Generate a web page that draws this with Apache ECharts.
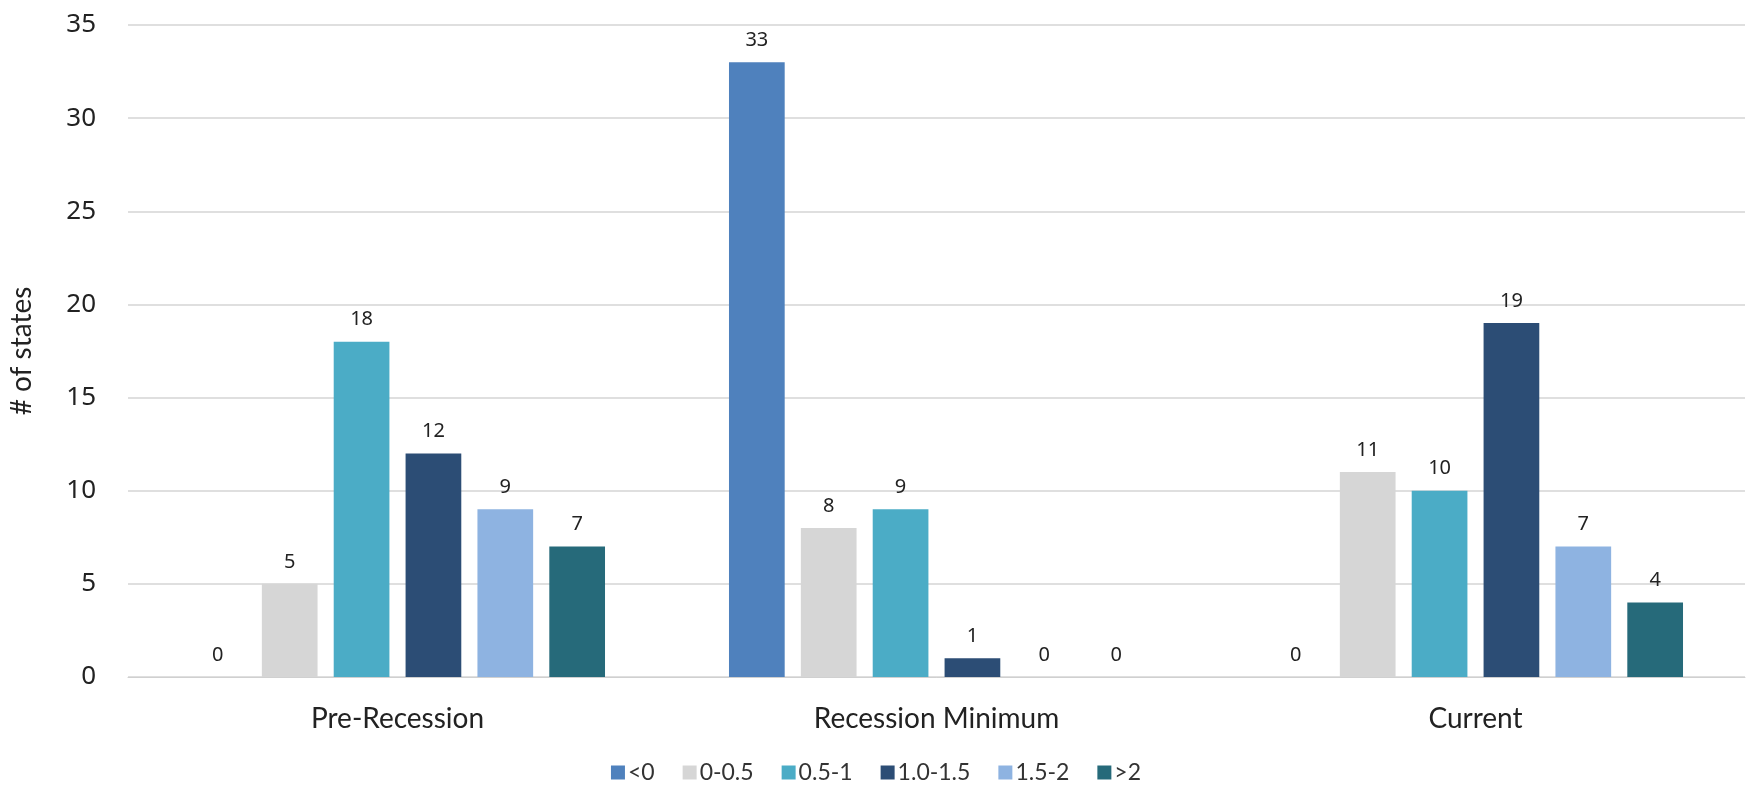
<!DOCTYPE html>
<html>
<head>
<meta charset="utf-8">
<script src="https://cdn.jsdelivr.net/npm/echarts@6/dist/echarts.min.js"></script>
<style>
  html, body { margin: 0; padding: 0; background: #fff; }
  #chart { width: 1752px; height: 789px; }
</style>
</head>
<body>
<div id="chart"></div>
<script>
// Periods on the x axis
const periods = ['Pre-Recession', 'Recession Minimum', 'Current'];

// Growth buckets (one series each) and their counts of states per period
const bucketNames = ['<0', '0-0.5', '0.5-1', '1.0-1.5', '1.5-2', '>2'];
const below0   = [0, 33, 0];
const zeroHalf = [5, 8, 11];
const halfOne  = [18, 9, 10];
const oneOneHalf = [12, 1, 19];
const oneHalfTwo = [9, 0, 7];
const above2   = [7, 0, 4];

const bucketColors = ['#4F81BD', '#D6D6D6', '#4BACC6', '#2C4D75', '#8EB3E1', '#266A7A'];
const bucketValues = [below0, zeroHalf, halfOne, oneOneHalf, oneHalfTwo, above2];

const yTicks = { min: 0, max: 35, interval: 5 };

const chart = echarts.init(document.getElementById('chart'));

const series = bucketNames.map((name, i) => ({
  name: name,
  type: 'bar',
  data: bucketValues[i],
  barGap: '29%',
  barCategoryGap: '23%',
  itemStyle: { color: bucketColors[i] },
  label: {
    show: true,
    position: 'top',
    distance: 12,
    color: '#222',
    fontFamily: 'Noto Sans',
    fontSize: 20
  }
}));

chart.setOption({
  animation: false,
  backgroundColor: '#ffffff',
  grid: { left: 124, right: 7, top: 25, bottom: 112, containLabel: false },
  legend: {
    data: bucketNames,
    bottom: 0,
    left: 'center',
    icon: 'rect',
    itemWidth: 14,
    itemHeight: 14,
    itemGap: 28,
    textStyle: { fontFamily: 'Lato', fontSize: 23, color: '#333', padding: [0, 0, 0, -2] }
  },
  xAxis: {
    type: 'category',
    data: periods,
    axisLine: { lineStyle: { color: '#d0d0d0', width: 1 } },
    axisTick: { show: false },
    axisLabel: { fontFamily: 'Lato', fontSize: 28, color: '#222', margin: 28 }
  },
  yAxis: {
    type: 'value',
    min: yTicks.min,
    max: yTicks.max,
    interval: yTicks.interval,
    name: '# of states',
    nameLocation: 'middle',
    nameGap: 92,
    nameTextStyle: { fontFamily: 'Lato', fontSize: 28, color: '#222' },
    axisLine: { show: false },
    axisTick: { show: false },
    splitLine: { lineStyle: { color: '#d4d4d4', width: 1.5 } },
    axisLabel: { fontFamily: 'Noto Sans', fontSize: 26, color: '#222', margin: 32 }
  },
  series: series
});
</script>
</body>
</html>
